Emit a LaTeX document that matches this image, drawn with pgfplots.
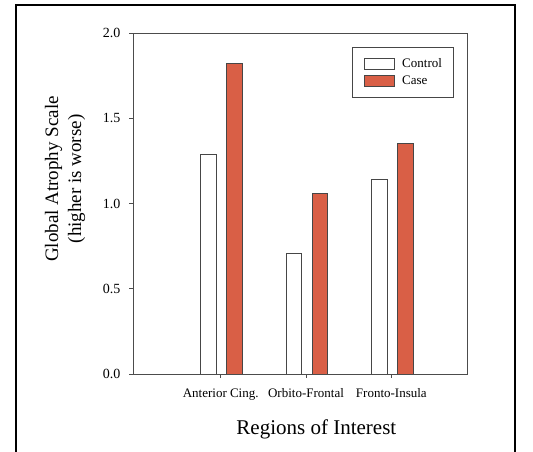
\documentclass[border=0pt]{standalone}
\usepackage{pgfplots}
\pgfplotsset{compat=1.18}
\usepackage{fontspec}
\setmainfont{Liberation Serif}
\definecolor{casered}{RGB}{217,95,70}
\definecolor{edge}{RGB}{70,70,70}
\begin{document}
\begin{tikzpicture}[x=1bp,y=1bp]
\path[use as bounding box] (0,0) rectangle (533,452);
\draw[line width=2bp] (16,0) -- (16,447) -- (515,447) -- (515,0);
\begin{axis}[
  at={(133bp,78bp)}, anchor=south west,
  scale only axis, width=334bp, height=341bp,
  xmin=-0.028, xmax=3.887, ymin=0, ymax=2,
  xtick={1,2,3}, xticklabels={Anterior Cing.,Orbito-Frontal,Fronto-Insula},
  ytick={0,0.5,1,1.5,2},
  yticklabel style={font=\fontsize{14bp}{16bp}\selectfont, xshift=-5bp, /pgf/number format/fixed, /pgf/number format/fixed zerofill, /pgf/number format/precision=1, /pgf/number format/assume math mode=true},
  xticklabel style={font=\fontsize{13bp}{15bp}\selectfont, yshift=-7bp},
  tick align=outside, tick pos=left, major tick length=4bp,
  axis line style={draw=black!70, line width=0.8bp},
  every tick/.style={draw=black!70, line width=0.8bp},
  ybar, bar width=0.184,
  xlabel={Regions of Interest},
  xlabel style={at={(axis description cs:0.549,-0.176)}, anchor=base, font=\fontsize{21bp}{24bp}\selectfont},
  ylabel={Global Atrophy Scale\\(higher is worse)},
  ylabel style={at={(axis description cs:-0.2036,0.572)}, anchor=center, align=center, font=\fontsize{19bp}{23bp}\selectfont},
  legend style={at={(rel axis cs:0.6566,0.9598)}, anchor=north west, draw=edge, line width=0.8bp,
    inner xsep=11bp, inner ysep=11bp, row sep=5bp, column sep=7.7bp,
    font=\fontsize{13bp}{15bp}\selectfont, nodes={inner sep=0pt}},
  legend cell align=left,
]
\addplot[draw=edge, fill=white, line width=0.8bp, bar shift=-0.1407,
  legend image code/.code={\draw[draw=edge, fill=white, line width=0.8bp] (0bp,-5.5bp) rectangle (30bp,5.5bp);}]
  coordinates {(1,1.29) (2,0.71) (3,1.14)};
\addlegendentry{Control}
\addplot[draw=edge, fill=casered, line width=0.8bp, bar shift=0.164,
  legend image code/.code={\draw[draw=edge, fill=casered, line width=0.8bp] (0bp,-5.5bp) rectangle (30bp,5.5bp);}]
  coordinates {(1,1.82) (2,1.06) (3,1.35)};
\addlegendentry{Case}
\end{axis}
\end{tikzpicture}
\end{document}
